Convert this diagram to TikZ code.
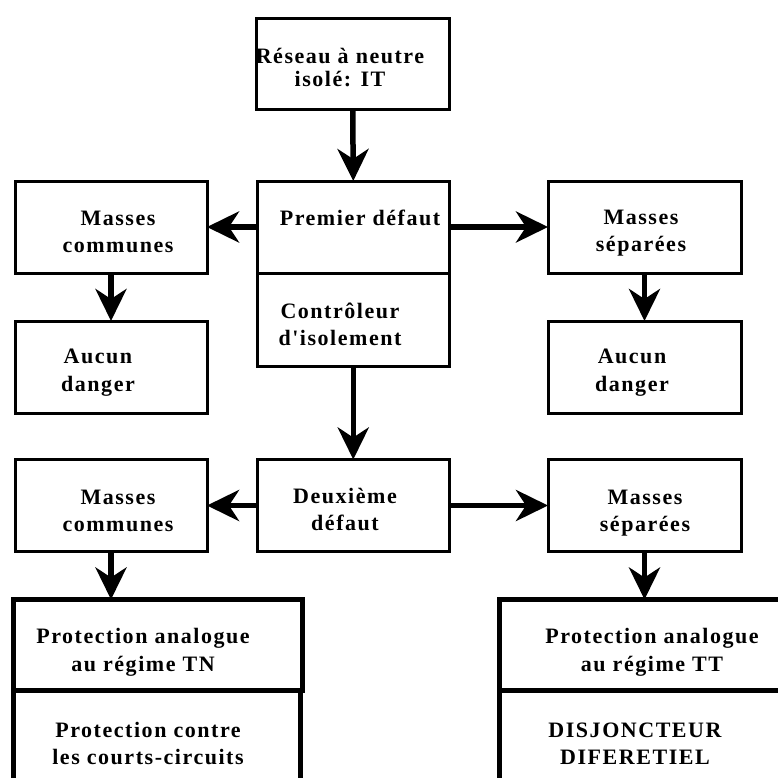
\documentclass[tikz,border=0pt]{standalone}
\usepackage{fontspec}
\setmainfont[LetterSpace=7, Ligatures=TeXOff]{Liberation Serif}
\usetikzlibrary{arrows.meta}
\tikzset{
  box/.style={draw, line width=3pt, rectangle, inner sep=0pt, outer sep=0pt, anchor=north west},
  bigbox/.style={box, line width=5pt},
  arr/.style={line width=5.5pt, -{Stealth[length=32pt, width=31pt, inset=10pt, fill=black]}},
  lbl/.style={anchor=base, inner sep=0pt, font=\fontsize{22}{27}\selectfont\bfseries}
}
\begin{document}
\begin{tikzpicture}[x=1pt,y=-1pt]
\clip (0,0) rectangle (778,778);
\fill[white] (0,0) rectangle (778,778);
% boxes
\node[box, minimum width=193.5pt, minimum height=91pt] (top) at (256,18.5) {};
\node[box, minimum width=192.5pt, minimum height=92pt] (prem) at (257,181) {};
\node[box, minimum width=192.5pt, minimum height=93pt] (ctrl) at (257,273) {};
\node[box, minimum width=192pt, minimum height=92pt] (mc1) at (15,181) {};
\node[box, minimum width=192pt, minimum height=92.5pt] (ad1) at (15,321) {};
\node[box, minimum width=193pt, minimum height=92pt] (ms1) at (548,181) {};
\node[box, minimum width=193pt, minimum height=92.5pt] (ad2) at (548,321) {};
\node[box, minimum width=192.5pt, minimum height=92pt] (deux) at (257,459.5) {};
\node[box, minimum width=192pt, minimum height=92pt] (mc2) at (15,459.5) {};
\node[box, minimum width=193pt, minimum height=92pt] (ms2) at (548,459.5) {};
\node[bigbox, minimum width=289pt, minimum height=90.5pt] (ptn) at (13.5,599.5) {};
\node[bigbox, minimum width=287pt, minimum height=110pt] (pcc) at (13.5,690) {};
\node[bigbox, minimum width=310pt, minimum height=90.5pt] (ptt) at (499,599.5) {};
\node[bigbox, minimum width=310pt, minimum height=110pt] (pdd) at (499,690) {};
% texts
\node[lbl] (t1a) at (340,64) {Réseau à neutre};
\node[lbl] (t1b) at (340,87) {isolé: IT};
\node[lbl] (t2) at (360,225) {Premier défaut};
\node[lbl] (t3a) at (340,318) {Contrôleur};
\node[lbl] (t3b) at (340,345) {d'isolement};
\node[lbl] (t4a) at (118,225) {Masses};
\node[lbl] (t4b) at (118,252) {communes};
\node[lbl] (t5a) at (98,363) {Aucun};
\node[lbl] (t5b) at (98,391) {danger};
\node[lbl] (t6a) at (641,224) {Masses};
\node[lbl] (t6b) at (641,251) {séparées};
\node[lbl] (t7a) at (632,363) {Aucun};
\node[lbl] (t7b) at (632,391) {danger};
\node[lbl] (t8a) at (345,503) {Deuxième};
\node[lbl] (t8b) at (345,530) {défaut};
\node[lbl] (t9a) at (118,504) {Masses};
\node[lbl] (t9b) at (118,531) {communes};
\node[lbl] (t10a) at (645,504) {Masses};
\node[lbl] (t10b) at (645,531) {séparées};
\node[lbl] (t11a) at (143,643) {Protection analogue};
\node[lbl] (t11b) at (143,671) {au régime TN};
\node[lbl] (t12a) at (148,737) {Protection contre};
\node[lbl] (t12b) at (148,764) {les courts-circuits};
\node[lbl] (t13a) at (652,643) {Protection analogue};
\node[lbl] (t13b) at (652,671) {au régime TT};
\node[lbl] (t14a) at (635,737) {DISJONCTEUR};
\node[lbl] (t14b) at (635,764) {DIFERETIEL};
% connectors
\draw[arr] (top.south) -- (prem.north);
\draw[arr] (prem.west) -- (mc1.east);
\draw[arr] (prem.east) -- (ms1.west);
\draw[arr] (mc1.south) -- (ad1.north);
\draw[arr] (ms1.south) -- (ad2.north);
\draw[arr] (ctrl.south) -- (deux.north);
\draw[arr] (deux.west) -- (mc2.east);
\draw[arr] (deux.east) -- (ms2.west);
\draw[arr] (mc2.south) -- (mc2.south |- ptn.north);
\draw[arr] (ms2.south) -- (ms2.south |- ptt.north);
\end{tikzpicture}
\end{document}
